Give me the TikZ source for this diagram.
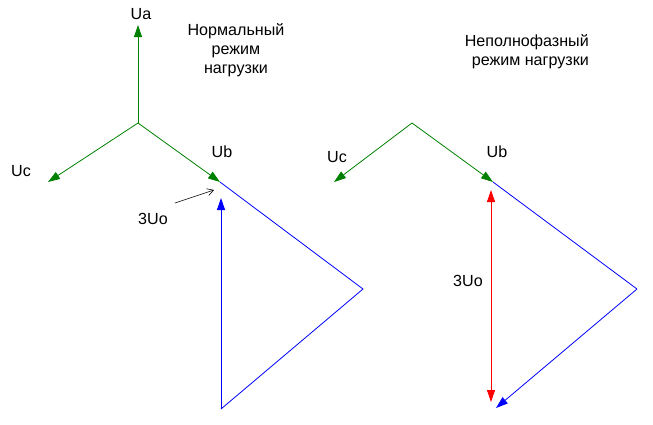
\documentclass[tikz,border=0pt]{standalone}
\usepackage{fontspec}
\setmainfont{Liberation Sans}
\usepackage{tikz}
\usetikzlibrary{arrows.meta}
\definecolor{phasegreen}{RGB}{0,128,0}
\tikzset{
  phase/.style={draw=phasegreen, line width=0.8pt, -{Triangle[length=12pt,width=8pt]}},
  zeroseq/.style={draw=blue, line width=0.8pt},
  label/.style={font=\fontsize{16.1}{19}\selectfont, inner sep=0pt, align=center},
}

\begin{document}
\begin{tikzpicture}[x=1pt, y=-1pt]
		%%%%% START %%%%%
		\useasboundingbox (0, 0) rectangle (653, 424);
		
		% normal load
		\coordinate (o1) at (138, 123);
		\coordinate (ua1) at (138, 25);
		\coordinate (uc1) at (48, 182);
		\coordinate (ub1) at (220, 182);
		\coordinate (m1) at (363, 289);
		\coordinate (n1) at (221, 409);
		\coordinate (t1) at (221, 198);
		
		\draw[phase] (o1) -- (ua1);
		\draw[phase] (o1) -- (uc1);
		\draw[phase] (o1) -- (ub1);
		\draw[zeroseq] (ub1) -- (m1) -- (n1);
		\draw[zeroseq, -{Triangle[length=12pt,width=8pt]}] (n1) -- (t1);
		
		\node[label] (lua1) at (141, 14) {Ua};
		\node[label] (lub1) at (222, 152) {Ub};
		\node[label] (luc1) at (21, 171) {Uc};
		\node[label] (l3u1) at (153, 219) {3Uo};
		\coordinate (p1) at (214, 190);
		\draw[line width=0.6pt, -{Straight Barb[length=6pt,width=7pt]}] (175, 203) -- (p1);
		\node[label] (title1) at (236, 50) {Нормальный\\режим\\нагрузки};
		
		% open phase
		\coordinate (o2) at (412, 123);
		\coordinate (uc2) at (334, 182);
		\coordinate (ub2) at (493, 182);
		\coordinate (m2) at (637, 289);
		\coordinate (n2) at (496, 408);
		\coordinate (t2) at (491, 190);
		\coordinate (b2) at (491, 402);
		
		\draw[phase] (o2) -- (uc2);
		\draw[phase] (o2) -- (ub2);
		\draw[zeroseq] (ub2) -- (m2);
		\draw[zeroseq, -{Triangle[length=12pt,width=8pt]}] (m2) -- (n2);
		\draw[red, line width=0.8pt, {Triangle[length=12pt,width=8pt]}-{Triangle[length=12pt,width=8pt]}] (t2) -- (b2);
		
		\node[label] (luc2) at (337, 157) {Uc};
		\node[label] (lub2) at (497, 152) {Ub};
		\node[label] (l3u2) at (468, 281) {3Uo};
		\node[label, align=right, anchor=east] (title2) at (589, 52) {Неполнофазный\\режим нагрузки};
		
		%%%%% END %%%%%
	\end{tikzpicture}
\end{document}
